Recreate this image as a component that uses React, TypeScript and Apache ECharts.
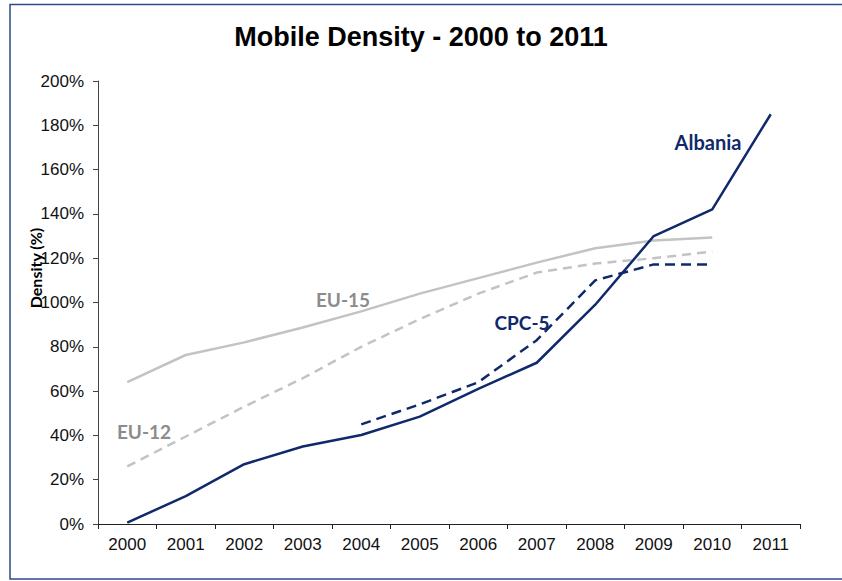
import React, { useEffect, useRef } from "react";
import * as echarts from "echarts";

const years = ["2000", "2001", "2002", "2003", "2004", "2005", "2006", "2007", "2008", "2009", "2010", "2011"];
const albania = [0.6, 12.6, 27, 35, 40.2, 48.5, 61, 72.8, 99, 130, 142, 185];
const eu15 = [64, 76.3, 82, 88.7, 96, 104, 111, 118, 124.5, 128, 129.4, null];
const eu12 = [26, 39.5, 53, 65.8, 80, 92.5, 104, 113.5, 117.6, 120, 123, null];
const cpc5 = [null, null, null, null, 45, 54, 64, 83, 110, 117.2, 117.2, null];

const NAVY = "#10296b";
const GRAY = "#c3c3c3";
const GRAY_TXT = "#8c8c8c";

export default function App() {
  const ref = useRef<HTMLDivElement>(null);
  useEffect(() => {
    if (!ref.current) return;
    const chart = echarts.init(ref.current, null, { renderer: "svg" });
    const lbl = (text: string, x: number, y: number, color: string, size: number) => ({
      type: "text",
      x,
      y,
      style: {
        text,
        fill: color,
        font: `bold ${size}px Lato, sans-serif`,
        textAlign: "center",
        textVerticalAlign: "middle",
      },
    });
    chart.setOption({
      animation: false,
      backgroundColor: "#ffffff",
      title: {
        text: "Mobile Density - 2000 to 2011",
        left: "center",
        top: 18,
        textStyle: { fontFamily: "Liberation Sans", fontWeight: "bold", fontSize: 27, color: "#000" },
      },
      grid: { left: 98, right: 42, top: 81, bottom: 57 },
      xAxis: {
        type: "category",
        data: years,
        boundaryGap: true,
        axisLine: { lineStyle: { color: "#222", width: 1 } },
        axisTick: { show: true, length: 5, lineStyle: { color: "#222" } },
        axisLabel: { color: "#111", fontFamily: "Liberation Sans", fontSize: 17, margin: 12 },
        splitLine: { show: false },
      },
      yAxis: {
        type: "value",
        min: 0,
        max: 200,
        interval: 20,
        axisLine: { show: true, lineStyle: { color: "#444", width: 1 } },
        axisTick: { show: true, length: 5, lineStyle: { color: "#444" } },
        axisLabel: { color: "#111", fontFamily: "Liberation Sans", fontSize: 17, margin: 14, formatter: "{value}%" },
        splitLine: { show: false },
      },
      series: [
        {
          name: "EU-15",
          type: "line",
          data: eu15,
          symbol: "none",
          lineStyle: { color: GRAY, width: 2.5 },
        },
        {
          name: "EU-12",
          type: "line",
          data: eu12,
          symbol: "none",
          lineStyle: { color: GRAY, width: 2.5, type: [9, 6] },
        },
        {
          name: "CPC-5",
          type: "line",
          data: cpc5,
          symbol: "none",
          lineStyle: { color: NAVY, width: 2.5, type: [10, 6] },
        },
        {
          name: "Albania",
          type: "line",
          data: albania,
          symbol: "none",
          lineStyle: { color: NAVY, width: 2.5 },
        },
      ],
      graphic: [
        {
          type: "rect",
          shape: { x: 10, y: 4.5, width: 900, height: 574.5 },
          style: { fill: "none", stroke: "#2b4a8a", lineWidth: 1.5 },
          silent: true,
        },
        lbl("Albania", 708, 142, NAVY, 20),
        lbl("CPC-5", 522, 322, NAVY, 19),
        lbl("EU-15", 343, 299, GRAY_TXT, 19),
        lbl("EU-12", 144, 431, GRAY_TXT, 19),
        {
          type: "text",
          x: 35,
          y: 268,
          rotation: Math.PI / 2,
          style: {
            text: "Density (%)",
            fill: "#000",
            font: "bold 16px Lato, sans-serif",
            textAlign: "center",
            textVerticalAlign: "middle",
          },
        },
      ],
    });
    return () => chart.dispose();
  }, []);
  return <div ref={ref} style={{ position: "absolute", left: 0, top: 0, width: 842, height: 581 }} />;
}
